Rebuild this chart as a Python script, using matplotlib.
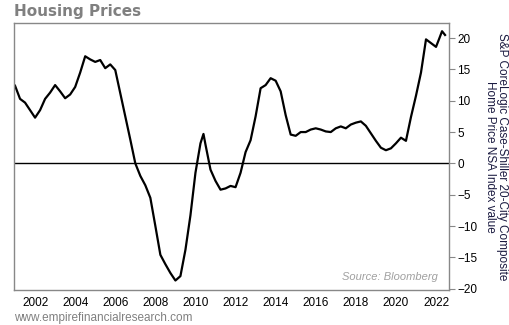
import matplotlib.pyplot as plt

# year (decimal) and index YoY values
years = [2001.00, 2001.25, 2001.50, 2001.75, 2002.00, 2002.25, 2002.50, 2002.75,
         2003.00, 2003.25, 2003.50, 2003.75, 2004.00, 2004.25, 2004.50, 2004.75,
         2005.00, 2005.25, 2005.50, 2005.75, 2006.00, 2006.25, 2006.50, 2006.75,
         2007.00, 2007.25, 2007.50, 2007.75, 2008.00, 2008.25, 2008.50, 2008.75,
         2009.00, 2009.25, 2009.50, 2009.75, 2010.00, 2010.25, 2010.40, 2010.50,
         2010.75, 2011.00, 2011.25, 2011.50, 2011.75, 2012.00, 2012.25, 2012.50,
         2012.75, 2013.00, 2013.25, 2013.50, 2013.75, 2014.00, 2014.25, 2014.50,
         2014.75, 2015.00, 2015.25, 2015.50, 2015.75, 2016.00, 2016.25, 2016.50,
         2016.75, 2017.00, 2017.25, 2017.50, 2017.75, 2018.00, 2018.25, 2018.50,
         2018.75, 2019.00, 2019.25, 2019.50, 2019.75, 2020.00, 2020.25, 2020.50,
         2020.75, 2021.00, 2021.25, 2021.50, 2021.75, 2022.00, 2022.17, 2022.30,
         2022.45]
values = [12.4, 10.3, 9.7, 8.5, 7.3, 8.5, 10.3, 11.3,
          12.5, 11.5, 10.4, 11.0, 12.2, 14.5, 17.1, 16.6,
          16.2, 16.5, 15.2, 15.8, 14.9, 11.2, 7.5, 3.8,
          0.0, -2.0, -3.5, -5.5, -10.0, -14.6, -16.1, -17.5,
          -18.7, -18.0, -13.8, -8.3, -1.5, 3.2, 4.7, 3.0,
          -1.0, -2.8, -4.2, -4.0, -3.6, -3.8, -1.5, 1.8,
          3.7, 7.5, 12.0, 12.5, 13.6, 13.2, 11.5, 7.7,
          4.6, 4.4, 5.0, 5.0, 5.4, 5.6, 5.4, 5.1,
          5.0, 5.6, 5.9, 5.6, 6.2, 6.5, 6.7, 6.0,
          4.8, 3.6, 2.5, 2.1, 2.4, 3.2, 4.1, 3.6,
          7.4, 10.8, 14.5, 19.8, 19.2, 18.6, 20.0, 21.1,
          20.5]

xticks = list(range(2002, 2023, 2))
yticks = list(range(-20, 21, 5))

plt.rcParams['font.family'] = ['Liberation Sans', 'DejaVu Sans']

fig = plt.figure(figsize=(5.1, 3.25), dpi=100)
ax = fig.add_axes([0.0275, 0.108, 0.853, 0.821])

ax.plot(years, values, color='black', linewidth=1.6)
ax.axhline(0, color='black', linewidth=1.0)

ax.set_xlim(2000.95, 2022.65)
ax.set_ylim(-20.2, 22.4)
ax.set_xticks(xticks)
ax.set_xticklabels([str(t) for t in xticks])
ax.set_yticks(yticks)

ax.yaxis.tick_right()
ax.yaxis.set_label_position('right')
ax.tick_params(axis='y', direction='out', length=4, color='#888888',
               labelsize=8.5, pad=2)
ax.tick_params(axis='x', length=0, labelsize=8.5, pad=5)
for s in ax.spines.values():
    s.set_color('#888888')
    s.set_linewidth(1.0)

ax.set_ylabel('S&P CoreLogic Case-Shiller 20-City Composite\nHome Price NSA Index value',
              rotation=-90, labelpad=22, fontsize=8.5, color='#1a1a40',
              linespacing=1.0)

ax.text(0.975, 0.05, 'Source: Bloomberg', transform=ax.transAxes,
        ha='right', va='center', fontsize=8, style='italic', color='#a0a0a0')

fig.text(0.027, 0.966, 'Housing Prices', fontsize=11, fontweight='bold',
         color='#808080', family='DejaVu Sans', va='center')
fig.text(0.027, 0.022, 'www.empirefinancialresearch.com', fontsize=8.5,
         color='#808080', va='center')

fig.savefig('out.png', dpi=100)
